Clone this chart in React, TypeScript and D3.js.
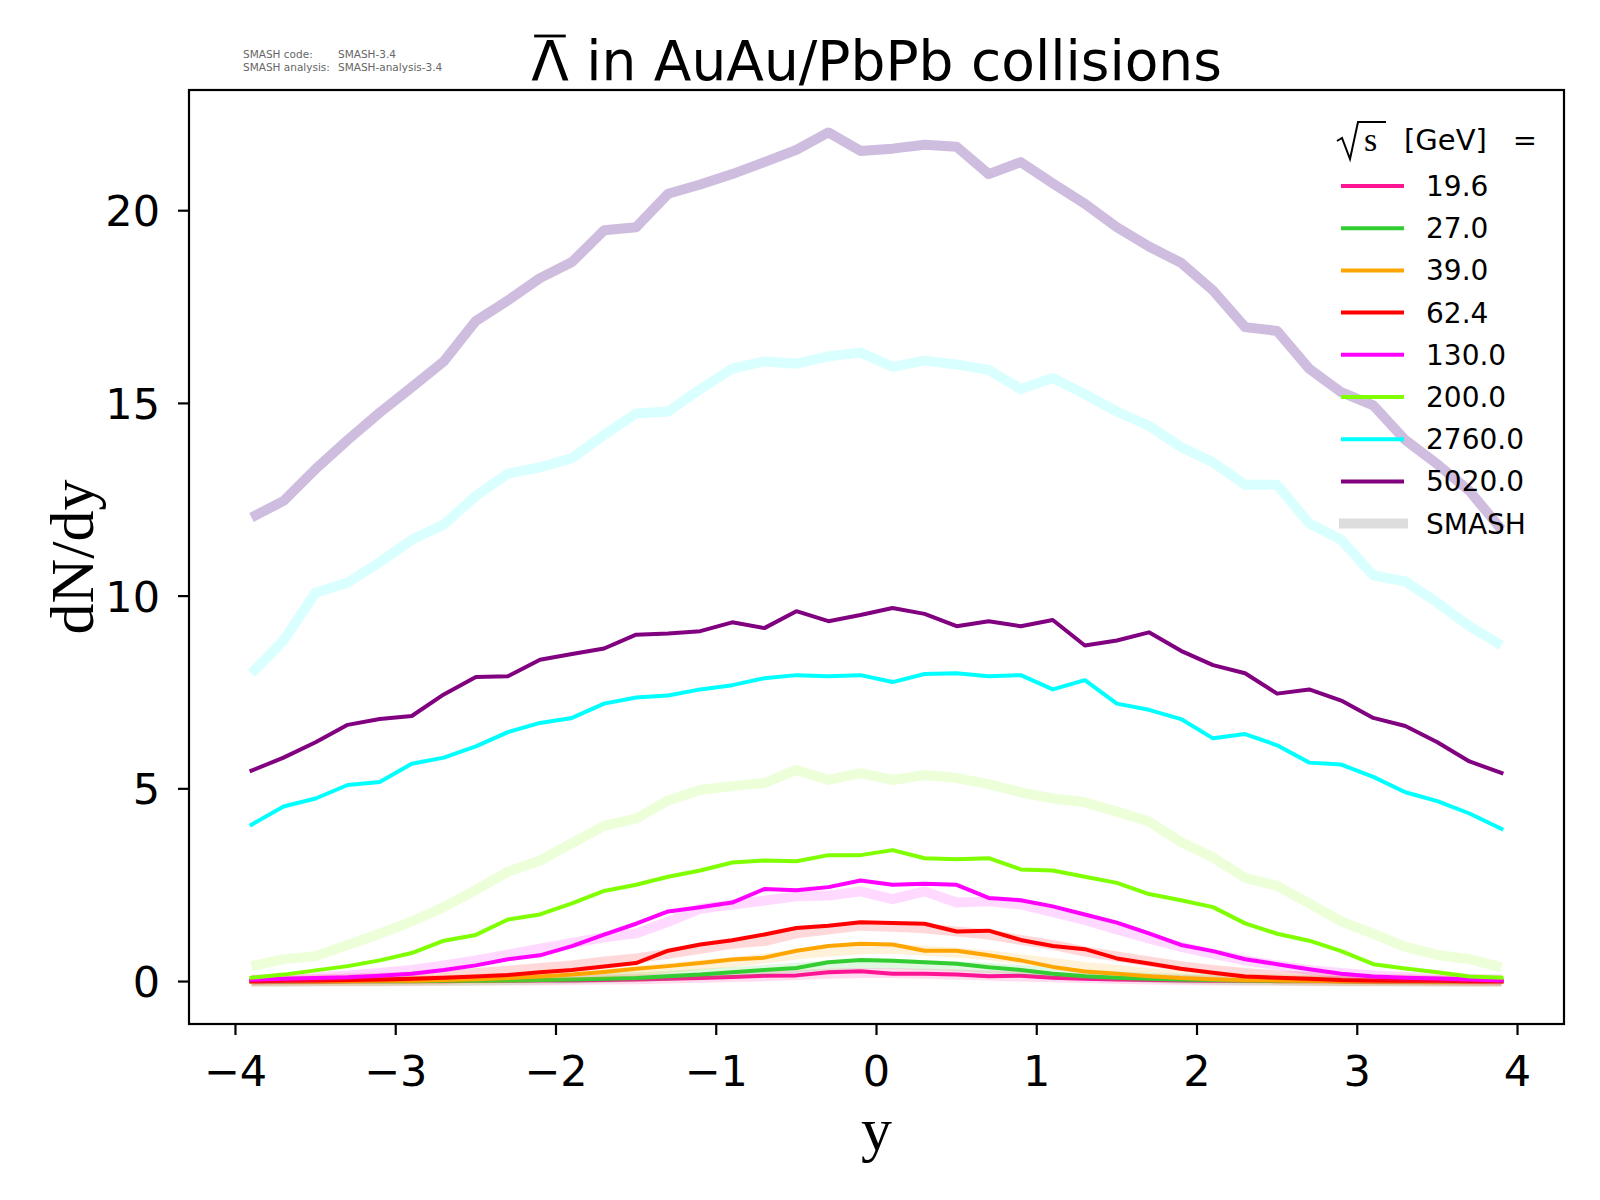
import React, { useLayoutEffect, useRef, useState } from 'react';
import * as d3 from 'd3';

// rapidity bins
const rapidity = [
  -3.9, -3.7, -3.5, -3.3, -3.1, -2.9, -2.7, -2.5, -2.3, -2.1,
  -1.9, -1.7, -1.5, -1.3, -1.1, -0.9, -0.7, -0.5, -0.3, -0.1,
  0.1, 0.3, 0.5, 0.7, 0.9, 1.1, 1.3, 1.5, 1.7, 1.9,
  2.1, 2.3, 2.5, 2.7, 2.9, 3.1, 3.3, 3.5, 3.7, 3.9,
];

const energies = ['19.6', '27.0', '39.0', '62.4', '130.0', '200.0', '2760.0', '5020.0'];
const colors = ['#ff1493', '#32cd32', '#ffa500', '#ff0000', '#ff00ff', '#7fff00', '#00ffff', '#800080'];

// thin lines
const thin196 = [0, 0, 0, 0.01, 0.01, 0.01, 0.01, 0.02, 0.02, 0.03, 0.03, 0.04, 0.05, 0.07, 0.09, 0.12, 0.15, 0.16, 0.24, 0.27, 0.2, 0.2, 0.18, 0.14, 0.15, 0.1, 0.07, 0.05, 0.04, 0.03, 0.02, 0.02, 0.01, 0.01, 0.01, 0, 0, 0, 0, 0];
const thin270 = [0, 0, 0.01, 0.01, 0.01, 0.01, 0.02, 0.02, 0.03, 0.04, 0.05, 0.07, 0.09, 0.14, 0.18, 0.24, 0.3, 0.35, 0.5, 0.56, 0.54, 0.5, 0.46, 0.37, 0.3, 0.2, 0.14, 0.1, 0.07, 0.05, 0.04, 0.03, 0.02, 0.02, 0.01, 0.01, 0.01, 0, 0, 0];
const thin390 = [0, 0.01, 0.01, 0.01, 0.02, 0.02, 0.04, 0.06, 0.09, 0.13, 0.18, 0.25, 0.33, 0.4, 0.48, 0.57, 0.62, 0.8, 0.92, 0.98, 0.96, 0.8, 0.8, 0.68, 0.55, 0.38, 0.26, 0.2, 0.14, 0.09, 0.06, 0.04, 0.03, 0.02, 0.01, 0.01, 0.01, 0, 0, 0];
const thin624 = [0.01, 0.02, 0.03, 0.04, 0.05, 0.07, 0.1, 0.13, 0.17, 0.24, 0.3, 0.39, 0.48, 0.8, 0.96, 1.07, 1.22, 1.39, 1.45, 1.54, 1.52, 1.5, 1.3, 1.32, 1.08, 0.92, 0.84, 0.6, 0.47, 0.33, 0.23, 0.13, 0.1, 0.07, 0.04, 0.03, 0.02, 0.02, 0.01, 0.01];
const thin1300 = [0.05, 0.07, 0.09, 0.11, 0.15, 0.2, 0.3, 0.42, 0.58, 0.68, 0.92, 1.22, 1.5, 1.82, 1.93, 2.05, 2.4, 2.37, 2.45, 2.62, 2.51, 2.54, 2.51, 2.17, 2.11, 1.95, 1.74, 1.53, 1.25, 0.95, 0.79, 0.58, 0.45, 0.32, 0.2, 0.13, 0.1, 0.08, 0.05, 0.03];
const thin2000 = [0.1, 0.18, 0.29, 0.4, 0.55, 0.74, 1.06, 1.21, 1.61, 1.74, 2.03, 2.35, 2.51, 2.72, 2.88, 3.09, 3.14, 3.12, 3.28, 3.28, 3.41, 3.2, 3.17, 3.2, 2.91, 2.88, 2.72, 2.56, 2.27, 2.11, 1.93, 1.51, 1.24, 1.06, 0.79, 0.45, 0.34, 0.24, 0.13, 0.1];
const thin27600 = [4.07, 4.54, 4.75, 5.1, 5.18, 5.65, 5.81, 6.1, 6.47, 6.71, 6.84, 7.21, 7.37, 7.42, 7.58, 7.69, 7.87, 7.95, 7.92, 7.95, 7.77, 7.98, 8.0, 7.92, 7.95, 7.58, 7.82, 7.21, 7.05, 6.81, 6.31, 6.42, 6.13, 5.68, 5.63, 5.31, 4.91, 4.68, 4.36, 3.96];
const thin50200 = [5.47, 5.81, 6.21, 6.66, 6.81, 6.89, 7.45, 7.9, 7.92, 8.35, 8.5, 8.64, 9.0, 9.03, 9.09, 9.32, 9.17, 9.61, 9.35, 9.51, 9.69, 9.54, 9.22, 9.35, 9.22, 9.38, 8.72, 8.85, 9.06, 8.58, 8.21, 8.0, 7.47, 7.58, 7.29, 6.84, 6.63, 6.21, 5.71, 5.41];

// SMASH (thick, light) lines
const smash196 = [0, 0, 0.01, 0.01, 0.01, 0.01, 0.02, 0.02, 0.03, 0.03, 0.04, 0.05, 0.06, 0.08, 0.1, 0.12, 0.14, 0.17, 0.2, 0.22, 0.22, 0.2, 0.18, 0.16, 0.13, 0.11, 0.09, 0.07, 0.05, 0.04, 0.03, 0.02, 0.02, 0.01, 0.01, 0.01, 0.01, 0, 0, 0];
const smash270 = [0, 0, 0.01, 0.01, 0.01, 0.02, 0.02, 0.03, 0.04, 0.05, 0.07, 0.09, 0.12, 0.15, 0.2, 0.25, 0.3, 0.36, 0.42, 0.46, 0.46, 0.43, 0.4, 0.35, 0.3, 0.24, 0.19, 0.14, 0.1, 0.07, 0.05, 0.04, 0.03, 0.02, 0.01, 0.01, 0.01, 0.01, 0, 0];
const smash390 = [0.01, 0.01, 0.02, 0.02, 0.03, 0.04, 0.05, 0.07, 0.09, 0.12, 0.16, 0.21, 0.27, 0.35, 0.43, 0.5, 0.6, 0.7, 0.78, 0.84, 0.85, 0.8, 0.75, 0.68, 0.58, 0.48, 0.38, 0.3, 0.22, 0.16, 0.12, 0.08, 0.06, 0.04, 0.03, 0.02, 0.02, 0.01, 0.01, 0.01];
const smash624 = [0.04, 0.05, 0.06, 0.08, 0.1, 0.13, 0.17, 0.22, 0.28, 0.35, 0.42, 0.52, 0.6, 0.72, 0.85, 0.98, 1.05, 1.25, 1.35, 1.45, 1.42, 1.38, 1.3, 1.22, 1.08, 0.95, 0.78, 0.65, 0.52, 0.4, 0.3, 0.22, 0.16, 0.12, 0.08, 0.06, 0.05, 0.04, 0.03, 0.03];
const smash1300 = [0.05, 0.08, 0.12, 0.16, 0.22, 0.3, 0.42, 0.55, 0.7, 0.85, 1.0, 1.15, 1.25, 1.55, 1.89, 2.0, 2.1, 2.21, 2.23, 2.34, 2.14, 2.34, 2.05, 2.08, 2.0, 1.8, 1.6, 1.35, 1.12, 0.9, 0.72, 0.55, 0.42, 0.3, 0.22, 0.16, 0.12, 0.09, 0.07, 0.05];
const smash2000 = [0.4, 0.58, 0.66, 0.95, 1.24, 1.56, 1.93, 2.38, 2.85, 3.14, 3.59, 4.04, 4.23, 4.7, 4.97, 5.07, 5.15, 5.49, 5.23, 5.41, 5.23, 5.36, 5.28, 5.12, 4.91, 4.75, 4.65, 4.41, 4.15, 3.62, 3.22, 2.69, 2.48, 2.03, 1.56, 1.24, 0.9, 0.69, 0.58, 0.37];
const smash27600 = [8.0, 8.85, 10.09, 10.35, 10.88, 11.46, 11.86, 12.6, 13.18, 13.34, 13.58, 14.18, 14.74, 14.79, 15.37, 15.9, 16.09, 16.03, 16.22, 16.32, 15.95, 16.11, 16.01, 15.87, 15.37, 15.66, 15.24, 14.79, 14.42, 13.87, 13.47, 12.89, 12.89, 11.89, 11.46, 10.54, 10.38, 9.83, 9.22, 8.72];
const smash50200 = [12.04, 12.47, 13.3, 14.05, 14.76, 15.42, 16.09, 17.14, 17.67, 18.25, 18.67, 19.49, 19.57, 20.44, 20.68, 20.95, 21.26, 21.58, 22.03, 21.55, 21.61, 21.71, 21.66, 20.95, 21.26, 20.71, 20.18, 19.57, 19.07, 18.65, 17.93, 16.98, 16.88, 15.9, 15.29, 14.95, 14.05, 13.42, 12.73, 11.73];

const thinSeries = [thin196, thin270, thin390, thin624, thin1300, thin2000, thin27600, thin50200];
const smashSeries = [smash196, smash270, smash390, smash624, smash1300, smash2000, smash27600, smash50200];
const smashColors = ['#ff1493', '#32cd32', '#ffa500', '#ff0000', '#ff00ff', '#7fff00', '#00ffff', '#663399'];
const smashOpacity = [0.15, 0.15, 0.15, 0.15, 0.15, 0.15, 0.15, 0.32];

const xTicks = [-4, -3, -2, -1, 0, 1, 2, 3, 4];
const yTicks = [0, 5, 10, 15, 20];

const W = 1600;
const H = 1200;
const plot = { left: 189, right: 1564, top: 90, bottom: 1024 };

const pad = (lo: number, hi: number): [number, number] => {
  const m = (hi - lo) * 0.05;
  return [lo - m, hi + m];
};

const fmt = (v: number) => (v < 0 ? '\u2212' + Math.abs(v) : String(v));

export default function App() {
  const titleRef = useRef<SVGTextElement>(null);
  const [bar, setBar] = useState<{ x1: number; x2: number } | null>(null);

  useLayoutEffect(() => {
    if (!titleRef.current) return;
    const ext = titleRef.current.getExtentOfChar(0);
    setBar({ x1: ext.x + 3, x2: ext.x + ext.width - 3 });
  }, []);

  const xExt = d3.extent(rapidity) as [number, number];
  const allVals = [...thinSeries, ...smashSeries].flat();
  const yExt = d3.extent(allVals) as [number, number];

  const x = d3.scaleLinear().domain(pad(xExt[0], xExt[1])).range([plot.left, plot.right]);
  const y = d3.scaleLinear().domain(pad(yExt[0], yExt[1])).range([plot.bottom, plot.top]);

  const line = d3
    .line<number>()
    .x((_, i) => x(rapidity[i]))
    .y((d) => y(d));

  const titleSize = 55;
  const titleBase = 80;
  const legendY0 = 186;
  const legendStep = 42.2;

  return (
    <div style={{ position: 'absolute', left: 0, top: 0 }}>
      <svg width={W} height={H} style={{ display: 'block', background: '#fff' }} fontFamily="DejaVu Sans">
        {/* version stamp */}
        <g fontSize={10.5} fill="#666">
          <text x={243} y={58}>SMASH code:</text>
          <text x={338} y={58}>SMASH-3.4</text>
          <text x={243} y={70.5}>SMASH analysis:</text>
          <text x={338} y={70.5}>SMASH-analysis-3.4</text>
        </g>

        {/* title */}
        <text ref={titleRef} x={(plot.left + plot.right) / 2} y={titleBase} fontSize={titleSize} textAnchor="middle">
          Λ in AuAu/PbPb collisions
        </text>
        {bar && (
          <line x1={bar.x1} x2={bar.x2} y1={titleBase - titleSize * 0.8} y2={titleBase - titleSize * 0.8} stroke="#000" strokeWidth={2.8} />
        )}

        {/* series */}
        <g fill="none" strokeLinejoin="round" strokeLinecap="square">
          {energies.map((e, k) => (
            <g key={e}>
              <path d={line(smashSeries[k]) || ''} stroke={smashColors[k]} strokeOpacity={smashOpacity[k]} strokeWidth={10} strokeLinecap="butt" />
              <path d={line(thinSeries[k]) || ''} stroke={colors[k]} strokeWidth={4} />
            </g>
          ))}
        </g>

        {/* frame */}
        <rect x={plot.left} y={plot.top} width={plot.right - plot.left} height={plot.bottom - plot.top} fill="none" stroke="#000" strokeWidth={2.2} />

        {/* x axis */}
        {xTicks.map((t) => (
          <g key={'x' + t}>
            <line x1={x(t)} x2={x(t)} y1={plot.bottom} y2={plot.bottom + 11} stroke="#000" strokeWidth={2.2} />
            <text x={x(t)} y={plot.bottom + 62} fontSize={43} textAnchor="middle">{fmt(t)}</text>
          </g>
        ))}
        {/* y axis */}
        {yTicks.map((t) => (
          <g key={'y' + t}>
            <line x1={plot.left - 11} x2={plot.left} y1={y(t)} y2={y(t)} stroke="#000" strokeWidth={2.2} />
            <text x={160} y={y(t) + 15.5} fontSize={43} textAnchor="end">{fmt(t)}</text>
          </g>
        ))}

        {/* axis labels */}
        <text x={(plot.left + plot.right) / 2} y={1150} fontSize={62} fontFamily="Liberation Serif" textAnchor="middle">y</text>
        <text transform={`translate(93,${(plot.top + plot.bottom) / 2}) rotate(-90)`} fontSize={62} fontFamily="Liberation Serif" textAnchor="middle">dN/dy</text>

        {/* legend */}
        <g>
          <path d="M1337,141 L1342,138 L1350,159 L1358,122 L1386,122" fill="none" stroke="#000" strokeWidth={2} strokeLinejoin="miter" />
          <text x={1364} y={151} fontSize={34} fontFamily="Liberation Serif">s</text>
          <text x={1404} y={150} fontSize={29}>[GeV]</text>
          <text x={1537} y={150} fontSize={29} textAnchor="end">=</text>
          {energies.map((e, k) => (
            <g key={'l' + e}>
              <line x1={1341} x2={1404} y1={legendY0 + k * legendStep} y2={legendY0 + k * legendStep} stroke={colors[k]} strokeWidth={4} />
              <text x={1426} y={legendY0 + k * legendStep + 10} fontSize={28}>{e}</text>
            </g>
          ))}
          <line x1={1339} x2={1408} y1={legendY0 + 8 * legendStep} y2={legendY0 + 8 * legendStep} stroke="#dddddd" strokeWidth={10} />
          <text x={1426} y={legendY0 + 8 * legendStep + 10} fontSize={28}>SMASH</text>
        </g>
      </svg>
    </div>
  );
}
